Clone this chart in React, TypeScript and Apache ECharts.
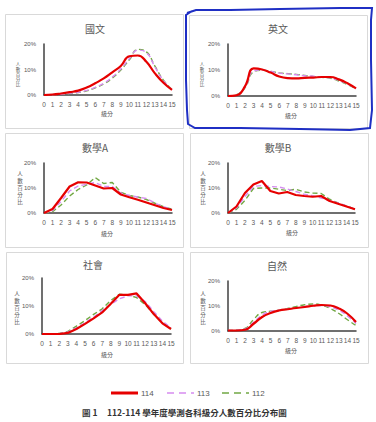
import React, { useEffect, useRef } from "react";
import * as echarts from "echarts";

const categories = ["0","1","2","3","4","5","6","7","8","9","10","11","12","13","14","15"];
const yearNames = ["114", "113", "112"];
const subjects = ["國文", "英文", "數學A", "數學B", "社會", "自然"];

const chinese114 = [0,0.2,0.6,1.1,1.7,2.9,4.6,6.5,8.9,11.4,15.2,15.5,13,8.5,4.8,2];
const chinese113 = [0,0.1,0.3,0.7,1.1,1.8,3,4.6,7,10.2,14.2,17.6,16.6,11,5.6,2.1];
const chinese112 = [0,0.1,0.3,0.6,1,1.6,2.8,4.3,6.6,9.8,13.8,17.9,16.9,11.3,5.8,2.2];

const english114 = [0,0.3,3.8,10.6,10.2,9,7.5,6.9,6.8,7,7.1,7.3,7.3,6.4,4.9,2.9];
const english113 = [0,0.4,3.4,9.6,10,9.4,8.8,8.5,8.2,7.8,7.6,7.3,7,6,4.6,2.8];
const english112 = [0,0.5,3.2,9.3,9.9,9.5,8.9,8.6,8.3,7.9,7.5,7.2,6.8,5.8,4.4,2.7];

const mathA114 = [0,1.6,6,10.6,12.3,12.2,11,9.8,10,7.4,6.3,5.3,4.2,3.1,2,1.2];
const mathA113 = [0,1,4.6,8.8,10.8,11.5,12.2,10.6,10.6,8,7,6.4,5.8,4,2.5,1.4];
const mathA112 = [0,0.5,3.2,6.8,9.4,11.2,14.2,11.8,12.2,8.3,7,6.4,5.4,3.9,2.5,1.5];

const mathB114 = [0,2.6,8,11.4,12.8,8.8,7.8,8.4,7.2,6.8,6.5,6.8,4.8,3.7,2.6,1.5];
const mathB113 = [0,2,6.6,10.6,11,10.6,10.4,9.6,8.6,7.5,6.9,6,5,4,2.8,1.5];
const mathB112 = [0,1.5,5,9.8,10,10,9.5,9,9.5,8.4,8,7.8,5.5,4,2.8,1.5];

const social114 = [0,0,0,0.4,1.8,3.6,5.6,7.7,10.8,14,14,14.5,11,7.1,3.8,1.8];
const social113 = [0,0,0.1,0.7,2.2,4,6,8.4,10.6,12.6,13.6,13.6,11.6,8,4.6,2.2];
const social112 = [0,0,0.2,0.9,2.8,4.8,7,9,12,14.2,14,13,10.5,7,4,1.8];

const science114 = [0.2,0.2,0.5,2.9,5.6,7.2,8.2,8.7,9.2,9.6,10.1,10.4,10.2,9,6.9,3.6];
const science113 = [0.2,0.3,0.8,3.5,6.4,7.8,8.3,8.8,9.3,9.8,10.2,10.2,9.6,8.3,6,3];
const science112 = [0.2,0.3,1,4.6,7.4,7.9,8.3,9,9.8,10.5,10.8,10.3,9,7,4.5,2.2];

const yTicks = { min: 0, max: 20, interval: 10 };
const yLabelChars = ["人", "數", "百", "分", "比"];

export default function App() {
  const ref = useRef<HTMLDivElement>(null);
  useEffect(() => {
    if (!ref.current) return;
    const chart = echarts.init(ref.current, null, { renderer: "svg" });
    const W = 376, H = 422;
    const data = [
      [chinese114, chinese113, chinese112],
      [english114, english113, english112],
      [mathA114, mathA113, mathA112],
      [mathB114, mathB113, mathB112],
      [social114, social113, social112],
      [science114, science113, science112],
    ];
    const smooth = [true, true, false, false, false, true];
    const plots = [
      [44, 172, 44, 95],
      [228, 356, 44, 96],
      [44, 172, 163, 213],
      [228, 355, 163, 213],
      [42, 171, 278, 334],
      [228, 356, 281, 331],
    ];
    const panels = [
      [5, 14, 178, 114],
      [189, 15, 178, 113],
      [5, 133, 178, 114],
      [190, 133, 178, 114],
      [6, 252, 177, 111],
      [190, 252, 178, 111],
    ];
    const titlePos = [[95, 28], [278, 28], [95, 147], [278, 147], [93, 264], [277, 265]];
    const yLabelPos = [[18, 64, 5], [202, 64, 5], [20, 174, 7], [203, 174, 7], [17, 294, 7], [203, 294, 7]];
    const xNamePos = [[107, 113], [291, 115], [107, 233], [292, 232], [107, 354], [291, 350]];
    const colors = ["#e60000", "#d68cf0", "#72a844"];

    const grid: any[] = [];
    const xAxis: any[] = [];
    const yAxis: any[] = [];
    const series: any[] = [];
    const graphic: any[] = [];

    plots.forEach((p, i) => {
      grid.push({ left: p[0], right: W - p[1], top: p[2], bottom: H - p[3], containLabel: false });
      xAxis.push({
        type: "category", gridIndex: i, data: categories, boundaryGap: false,
        axisLine: { lineStyle: { color: "#404040", width: 1.5 } },
        axisTick: { show: false },
        axisLabel: { interval: 0, fontSize: 6.5, color: "#595959", margin: 6, fontFamily: "Liberation Sans" },
      });
      yAxis.push({
        type: "value", gridIndex: i, ...yTicks,
        axisLine: { show: true, lineStyle: { color: "#404040", width: 1.5 } },
        axisTick: { show: false }, splitLine: { show: false },
        axisLabel: { formatter: "{value}%", fontSize: 6, color: "#595959", margin: 8, fontFamily: "Liberation Sans" },
      });
      [2, 1, 0].forEach((k) => {
        series.push({
          type: "line", name: yearNames[k], xAxisIndex: i, yAxisIndex: i,
          data: data[i][k], showSymbol: false, symbol: "none", smooth: smooth[i],
          lineStyle: k === 0
            ? { color: colors[0], width: 2.2 }
            : { color: colors[k], width: 1.4, type: [5, 3] },
          itemStyle: { color: colors[k] },
          z: 10 - k,
        });
      });
      const pn = panels[i];
      graphic.push({ type: "rect", shape: { x: pn[0] + 0.5, y: pn[1] + 0.5, width: pn[2], height: pn[3] },
        style: { fill: "none", stroke: "#d9d9d9", lineWidth: 1 }, z: 0 });
      graphic.push({ type: "text", x: titlePos[i][0], y: titlePos[i][1],
        style: { text: subjects[i], fill: "#595959", font: "10px 'Noto Sans CJK TC'", textAlign: "center", textVerticalAlign: "middle" } });
      const yl = yLabelPos[i];
      const fs = yl[2] <= 5 ? 4.5 : 5.5;
      yLabelChars.forEach((ch, j) => {
        graphic.push({ type: "text", x: yl[0], y: yl[1] + j * yl[2],
          style: { text: ch, fill: "#595959", font: fs + "px 'Noto Sans CJK TC'", textAlign: "center", textVerticalAlign: "middle" } });
      });
      graphic.push({ type: "text", x: xNamePos[i][0], y: xNamePos[i][1],
        style: { text: "級分", fill: "#595959", font: "6px 'Noto Sans CJK TC'", textAlign: "center", textVerticalAlign: "middle" } });
    });

    // hand-drawn blue outline around the 英文 panel
    graphic.push({ type: "polyline", shape: { points: [
      [192, 11], [186, 15], [186, 40], [186, 80], [187, 110], [188, 124], [195, 128], [240, 128], [300, 129], [350, 130], [370, 128],
      [372, 110], [371, 60], [371, 20], [372, 8], [340, 8], [280, 9], [230, 10], [196, 10], [187, 13]
    ] }, style: { stroke: "#1f2fc4", lineWidth: 2, fill: "none" }, z: 100 });

    // legend
    const legendX = [111, 167, 222];
    yearNames.forEach((nm, k) => {
      graphic.push({ type: "line", shape: { x1: legendX[k], y1: 393, x2: legendX[k] + 27, y2: 393 },
        style: k === 0
          ? { stroke: colors[0], lineWidth: 3 }
          : { stroke: colors[k], lineWidth: 1.6, lineDash: [7, 5] } });
      graphic.push({ type: "text", x: legendX[k] + 30, y: 393,
        style: { text: nm, fill: "#595959", font: "8px 'Liberation Sans'", textVerticalAlign: "middle" } });
    });

    graphic.push({ type: "text", x: 82, y: 412,
      style: { text: "圖 1", fill: "#333", font: "bold 8.5px 'Noto Sans CJK TC'", textVerticalAlign: "middle" } });
    graphic.push({ type: "text", x: 107, y: 412,
      style: { text: "112-114 學年度學測各科級分人數百分比分布圖", fill: "#333", font: "bold 8.5px 'Noto Sans CJK TC'", textVerticalAlign: "middle" } });

    chart.setOption({
      animation: false,
      backgroundColor: "#ffffff",
      grid, xAxis, yAxis, series, graphic,
    });
    return () => chart.dispose();
  }, []);
  return <div ref={ref} style={{ position: "absolute", left: 0, top: 0, width: 376, height: 422 }} />;
}
